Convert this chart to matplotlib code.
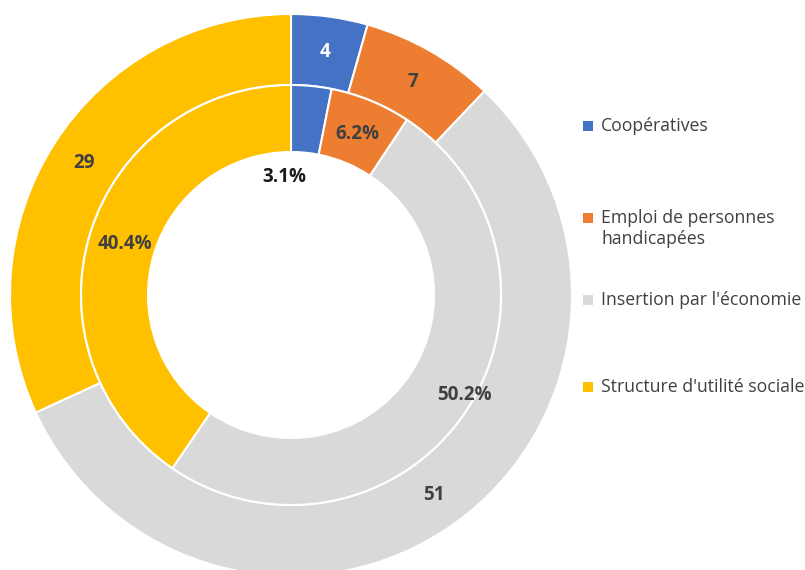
import matplotlib.pyplot as plt
import numpy as np

categories = ["Coopératives", "Emploi de personnes\nhandicapées",
              "Insertion par l'économie", "Structure d'utilité sociale"]
outer_values = [4, 7, 51, 29]
inner_values = [3.1, 6.2, 50.2, 40.4]
colors = ["#4472C4", "#ED7D31", "#D9D9D9", "#FFC000"]
outer_text_colors = ["white", "#404040", "#404040", "#404040"]

plt.rcParams['font.family'] = ['Open Sans', 'DejaVu Sans']

fig = plt.figure(figsize=(8.05, 5.7), dpi=100)
ax = fig.add_axes([0, 0, 1, 1])

cx, cy = 291, 275
r_out = 281
r_mid = 210
r_in = 143

wedges_out, _ = ax.pie(outer_values, colors=colors, radius=r_out, center=(cx, cy),
                       startangle=90, counterclock=False,
                       wedgeprops=dict(width=r_out - r_mid, edgecolor="white", linewidth=1.5),
                       frame=True)
wedges_in, _ = ax.pie(inner_values, colors=colors, radius=r_mid, center=(cx, cy),
                      startangle=90, counterclock=False,
                      wedgeprops=dict(width=r_mid - r_in, edgecolor="white", linewidth=1.5),
                      frame=True)
ax.set_xlim(0, 805)
ax.set_ylim(0, 570)
ax.set_aspect('equal')
ax.axis('off')


def mid_angle(w):
    return np.deg2rad((w.theta1 + w.theta2) / 2)


# outer labels on the ring centre
for w, v, tc in zip(wedges_out, outer_values, outer_text_colors):
    a = mid_angle(w)
    r = (r_out + r_mid) / 2
    ax.text(cx + r * np.cos(a), cy + r * np.sin(a), f"{v}", ha="center", va="center",
            fontsize=13.5, fontweight="bold", color=tc)

# inner labels, small nudges like the original (excel moves some)
inner_r = [118, 174, 200, 174]
inner_da = [9, 0, 4, 0]
inner_tc = ["#1a1a1a", "#404040", "#404040", "#404040"]
for w, v, r, da, tc in zip(wedges_in, inner_values, inner_r, inner_da, inner_tc):
    a = mid_angle(w) + np.deg2rad(da)
    ax.text(cx + r * np.cos(a), cy + r * np.sin(a), f"{v:.1f}%", ha="center", va="center",
            fontsize=13.5, fontweight="bold", color=tc)

# legend drawn by hand so the marker sits on the first line
leg_y = [444, 352, 270, 183]
for lab, col, y in zip(categories, colors, leg_y):
    ax.scatter([588], [y], marker="s", s=45, color=col, linewidths=0)
    if "\n" in lab:
        ax.text(601, y + 9, lab, ha="left", va="top", fontsize=12.7,
                color="#404040", linespacing=1.25)
    else:
        ax.text(601, y, lab, ha="left", va="center", fontsize=12.7, color="#404040")

fig.savefig("out.png", dpi=100)
